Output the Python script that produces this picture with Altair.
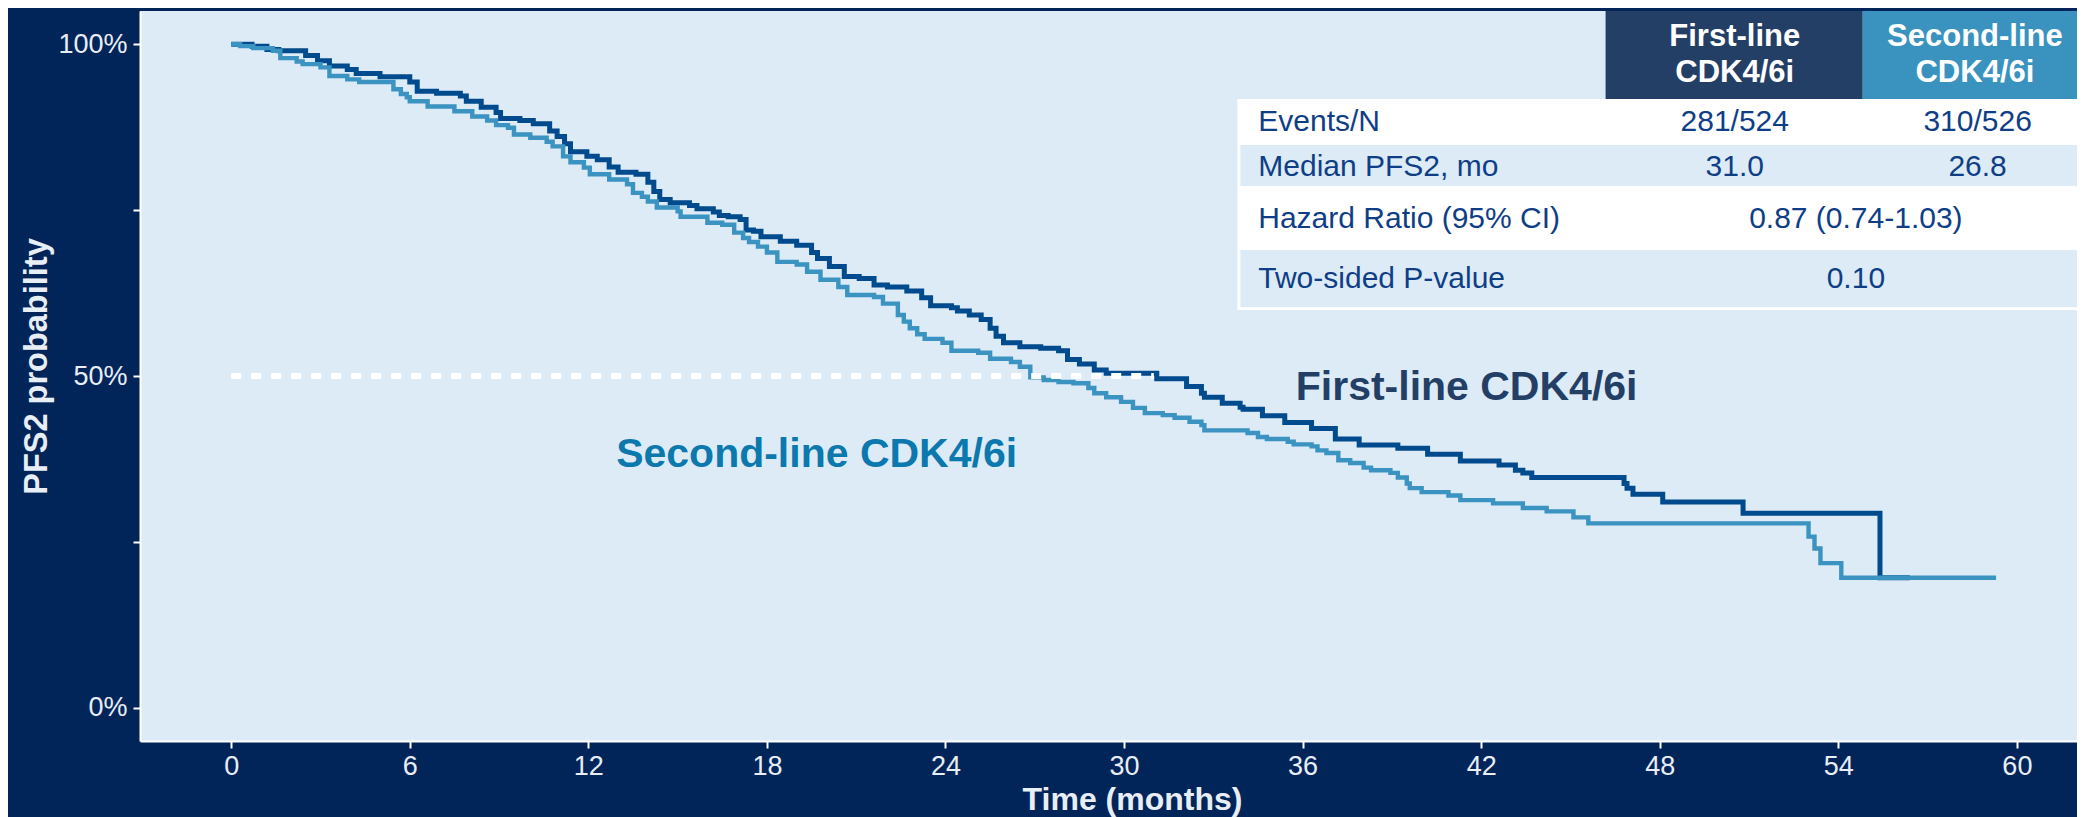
import altair as alt
import pandas as pd

# ---------------- data ----------------
first_t = [0, 0.7, 1.2, 1.6, 2.5, 2.9, 3.3, 3.9, 4.2, 5.0, 6.0, 6.25, 6.9, 7.7, 7.9, 8.4,
           8.9, 9.05, 9.7, 10.15, 10.7, 10.95, 11.2, 11.4, 11.95, 12.3, 12.7, 13.0, 13.6,
           14.0, 14.2, 14.4, 14.75, 15.4, 15.65, 16.2, 16.4, 16.7, 17.1, 17.3, 17.55, 17.8,
           18.45, 19.0, 19.5, 19.7, 20.1, 20.6, 21.1, 21.6, 22.05, 22.7, 23.2, 23.5, 24.2,
           24.4, 24.8, 25.2, 25.5, 25.7, 25.95, 26.5, 27.2, 27.8, 28.1, 28.5, 29.0, 29.4,
           31.1, 32.1, 32.6, 32.7, 33.3, 33.9, 34.0, 34.65, 35.4, 36.3, 37.1, 37.9, 39.2,
           40.2, 41.3, 42.6, 43.15, 43.4, 43.7, 46.8, 46.9, 47.1, 48.1, 50.8, 55.4, 56.4]
first_s = [1.0, 0.997, 0.992, 0.99, 0.983, 0.975, 0.967, 0.962, 0.956, 0.951, 0.943, 0.929,
           0.926, 0.922, 0.914, 0.905, 0.897, 0.888, 0.885, 0.88, 0.869, 0.861, 0.85, 0.838,
           0.831, 0.826, 0.815, 0.807, 0.804, 0.792, 0.778, 0.766, 0.761, 0.757, 0.752,
           0.747, 0.742, 0.740, 0.736, 0.72, 0.718, 0.71, 0.703, 0.697, 0.686, 0.677, 0.665,
           0.65, 0.647, 0.637, 0.634, 0.628, 0.618, 0.606, 0.603, 0.598, 0.592, 0.585, 0.572,
           0.56, 0.55, 0.544, 0.542, 0.538, 0.525, 0.518, 0.509, 0.504, 0.496, 0.484, 0.474,
           0.468, 0.459, 0.453, 0.45, 0.44, 0.43, 0.421, 0.405, 0.396, 0.391, 0.382, 0.372,
           0.366, 0.358, 0.354, 0.347, 0.338, 0.331, 0.322, 0.31, 0.293, 0.196, 0.196]

second_t = [0, 0.3, 0.74, 1.4, 1.65, 2.2, 2.4, 3.0, 3.3, 3.9, 4.3, 5.45, 5.7, 5.9, 6.0, 6.6,
            7.5, 8.1, 8.6, 8.9, 9.3, 9.5, 10.05, 10.6, 10.8, 11.15, 11.4, 11.85, 12.05, 12.7,
            13.3, 13.5, 13.8, 14.0, 14.3, 15.0, 15.1, 16.0, 16.5, 16.9, 17.2, 17.4, 17.7,
            18.0, 18.35, 19.0, 19.35, 19.8, 20.4, 20.7, 21.6, 21.9, 22.4, 22.6, 22.8, 23.05,
            23.3, 23.9, 24.2, 25.1, 25.5, 26.2, 26.5, 26.85, 27.3, 27.8, 28.3, 28.8, 29.0,
            29.4, 29.9, 30.3, 30.7, 31.3, 31.7, 32.2, 32.6, 32.7, 34.15, 34.5, 34.8, 35.5,
            35.7, 36.3, 36.5, 36.8, 37.2, 37.6, 38.05, 38.3, 38.95, 39.2, 39.5, 39.6, 40.0,
            40.9, 41.3, 42.4, 43.4, 44.2, 45.1, 45.6, 53.0, 53.2, 53.4, 54.1, 59.3]
second_s = [1.0, 0.997, 0.994, 0.99, 0.979, 0.974, 0.97, 0.965, 0.952, 0.947, 0.943, 0.932,
            0.925, 0.92, 0.914, 0.906, 0.899, 0.891, 0.885, 0.878, 0.874, 0.864, 0.859,
            0.853, 0.846, 0.831, 0.822, 0.814, 0.804, 0.796, 0.789, 0.776, 0.77, 0.763,
            0.754, 0.748, 0.74, 0.731, 0.728, 0.716, 0.708, 0.702, 0.695, 0.686, 0.672,
            0.668, 0.657, 0.645, 0.634, 0.622, 0.619, 0.609, 0.592, 0.582, 0.572, 0.563,
            0.556, 0.55, 0.538, 0.535, 0.526, 0.521, 0.514, 0.498, 0.494, 0.491, 0.489,
            0.482, 0.474, 0.468, 0.461, 0.452, 0.444, 0.441, 0.437, 0.431, 0.426, 0.418,
            0.414, 0.408, 0.405, 0.401, 0.397, 0.394, 0.388, 0.384, 0.373, 0.369, 0.362,
            0.358, 0.354, 0.347, 0.338, 0.331, 0.325, 0.32, 0.313, 0.308, 0.301, 0.296,
            0.287, 0.278, 0.258, 0.24, 0.218, 0.196, 0.196]

arm_names = ["First-line CDK4/6i", "Second-line CDK4/6i"]
header_lines = [["First-line", "CDK4/6i"], ["Second-line", "CDK4/6i"]]
row_labels = ["Events/N", "Median PFS2, mo", "Hazard Ratio (95% CI)", "Two-sided P-value"]
events_n = ["281/524", "310/526"]
median_pfs2 = [31.0, 26.8]
hazard_ratio = "0.87 (0.74-1.03)"
p_value = "0.10"
median_level = 0.5

x_ticks = [0, 6, 12, 18, 24, 30, 36, 42, 48, 54, 60]
y_ticks = [0, 0.25, 0.5, 0.75, 1.0]

# ---------------- layout (in data units of the scales) ----------------
X_DOMAIN = [-3.065, 62.02]
Y_DOMAIN = [-0.05, 1.05]
TBL_LEFT, TBL_SPLIT1, TBL_SPLIT2, TBL_RIGHT = 33.81, 46.18, 54.82, 62.02
TBL_INSET = 0.1
HEAD_TOP = 1.05
ROW_EDGES = [0.9174, 0.8511, 0.7833, 0.6929, 0.5995]
HEAD_Y = [1.0108, 0.9566]
HEAD_X = [50.52, 58.59]
ROW_Y = [0.8827, 0.8149, 0.7366, 0.6462]
LABEL_X = 34.51
COL_X = [50.52, 58.68]
MERGED_X = 54.59
ANNOT_POS = [(41.51, 0.4819), (19.67, 0.381)]

# ---------------- colours / fonts ----------------
NAVY = "#022559"
PANEL = "#DDEBF7"
DARK_LINE = "#004B8D"
LIGHT_LINE = "#3A93C0"
HEAD_DARK = "#233F66"
HEAD_LIGHT = "#3A93BF"
TABLE_TEXT = "#0F3E86"
AXIS_TEXT = "#E8EEF6"
FONT = "Liberation Sans"

xs = alt.Scale(domain=X_DOMAIN, nice=False, zero=False)
ys = alt.Scale(domain=Y_DOMAIN, nice=False, zero=False)

x_axis = alt.Axis(values=x_ticks, title="Time (months)", grid=False,
                  labelFont=FONT, labelFontSize=27, labelColor=AXIS_TEXT, labelPadding=5,
                  tickColor="white", tickSize=7, tickWidth=2,
                  domainColor="white", domainWidth=2,
                  titleFont=FONT, titleFontSize=32, titleFontWeight="bold",
                  titleColor=AXIS_TEXT, titleX=992, titleY=58, titleBaseline="middle",
                  titleAlign="center")
y_axis = alt.Axis(values=y_ticks, title="PFS2 probability", grid=False,
                  labelExpr="(datum.value == 0.25 || datum.value == 0.75) ? '' : format(datum.value, '.0%')",
                  labelFont=FONT, labelFontSize=27, labelColor=AXIS_TEXT, labelPadding=6,
                  tickColor="white", tickSize=7, tickWidth=2,
                  domainColor="white", domainWidth=2,
                  titleFont=FONT, titleFontSize=32.5, titleFontWeight="bold",
                  titleColor=AXIS_TEXT, titleX=-104, titleY=355, titleAngle=270,
                  titleBaseline="middle", titleAlign="center")


def X(field):
    return alt.X(field, scale=xs, axis=x_axis, title="Time (months)")


def Y(field):
    return alt.Y(field, scale=ys, axis=y_axis, title="PFS2 probability")


# ---------------- table rectangles ----------------
rect_df = pd.DataFrame([
    {"x": TBL_SPLIT1, "x2": TBL_SPLIT2, "y": ROW_EDGES[0], "y2": HEAD_TOP, "c": HEAD_DARK},
    {"x": TBL_SPLIT2, "x2": TBL_RIGHT, "y": ROW_EDGES[0], "y2": HEAD_TOP, "c": HEAD_LIGHT},
    {"x": TBL_LEFT, "x2": TBL_RIGHT, "y": ROW_EDGES[4], "y2": ROW_EDGES[0], "c": "#FFFFFF"},
    {"x": TBL_LEFT + TBL_INSET, "x2": TBL_RIGHT, "y": ROW_EDGES[2] + 0.003,
     "y2": ROW_EDGES[1] - 0.003, "c": PANEL},
    {"x": TBL_LEFT + TBL_INSET, "x2": TBL_RIGHT, "y": ROW_EDGES[4] + 0.004,
     "y2": ROW_EDGES[3] - 0.003, "c": PANEL},
])
rects = alt.Chart(rect_df).mark_rect().encode(
    x=X("x:Q"), x2="x2:Q", y=Y("y:Q"), y2="y2:Q",
    color=alt.Color("c:N", scale=None),
)

# ---------------- KM curves ----------------
df1 = pd.DataFrame({"x": first_t, "y": first_s})
df2 = pd.DataFrame({"x": second_t, "y": second_s})
line1 = alt.Chart(df1).mark_line(interpolate="step-after", strokeWidth=5, color=DARK_LINE).encode(
    x=X("x:Q"), y=Y("y:Q"))
line2 = alt.Chart(df2).mark_line(interpolate="step-after", strokeWidth=4.4, color=LIGHT_LINE).encode(
    x=X("x:Q"), y=Y("y:Q"))

med_df = pd.DataFrame({"x": [0, median_pfs2[0]], "y": [median_level, median_level]})
med_line = alt.Chart(med_df).mark_line(color="white", strokeWidth=6, strokeDash=[10, 10]).encode(
    x=X("x:Q"), y=Y("y:Q"))


# ---------------- texts ----------------
def text_layer(rows, **kw):
    df = pd.DataFrame(rows)
    return alt.Chart(df).mark_text(font=FONT, **kw).encode(
        x=X("x:Q"), y=Y("y:Q"), text="text:N")


head_rows = []
for i, lines in enumerate(header_lines):
    for j, ln in enumerate(lines):
        head_rows.append({"x": HEAD_X[i], "y": HEAD_Y[j], "text": ln})
head_text = text_layer(head_rows, fontSize=31, fontWeight="bold", color="white",
                       align="center", baseline="middle")

label_rows = [{"x": LABEL_X, "y": ROW_Y[i], "text": r} for i, r in enumerate(row_labels)]
label_text = text_layer(label_rows, fontSize=30, color=TABLE_TEXT, align="left", baseline="middle")

val_rows = [
    {"x": COL_X[0], "y": ROW_Y[0], "text": events_n[0]},
    {"x": COL_X[1], "y": ROW_Y[0], "text": events_n[1]},
    {"x": COL_X[0], "y": ROW_Y[1], "text": f"{median_pfs2[0]:.1f}"},
    {"x": COL_X[1], "y": ROW_Y[1], "text": f"{median_pfs2[1]:.1f}"},
    {"x": MERGED_X, "y": ROW_Y[2], "text": hazard_ratio},
    {"x": MERGED_X, "y": ROW_Y[3], "text": p_value},
]
val_text = text_layer(val_rows, fontSize=30, color=TABLE_TEXT, align="center", baseline="middle")

annot1 = text_layer([{"x": ANNOT_POS[0][0], "y": ANNOT_POS[0][1], "text": arm_names[0]}],
                    fontSize=41, fontWeight="bold", color=HEAD_DARK, align="center",
                    baseline="middle")
annot2 = text_layer([{"x": ANNOT_POS[1][0], "y": ANNOT_POS[1][1], "text": arm_names[1]}],
                    fontSize=41, fontWeight="bold", color="#0B78AE", align="center",
                    baseline="middle")

chart = alt.layer(rects, line1, line2, med_line, head_text, label_text, val_text,
                  annot1, annot2).properties(
    width=1937, height=730,
    padding={"left": 132, "top": 3, "right": 0, "bottom": 76},
    autosize=alt.AutoSizeParams(type="none"),
    background=NAVY,
).configure_view(fill=PANEL, strokeWidth=0)

chart.save("out.html", embed_options={"renderer": "svg", "actions": False})
